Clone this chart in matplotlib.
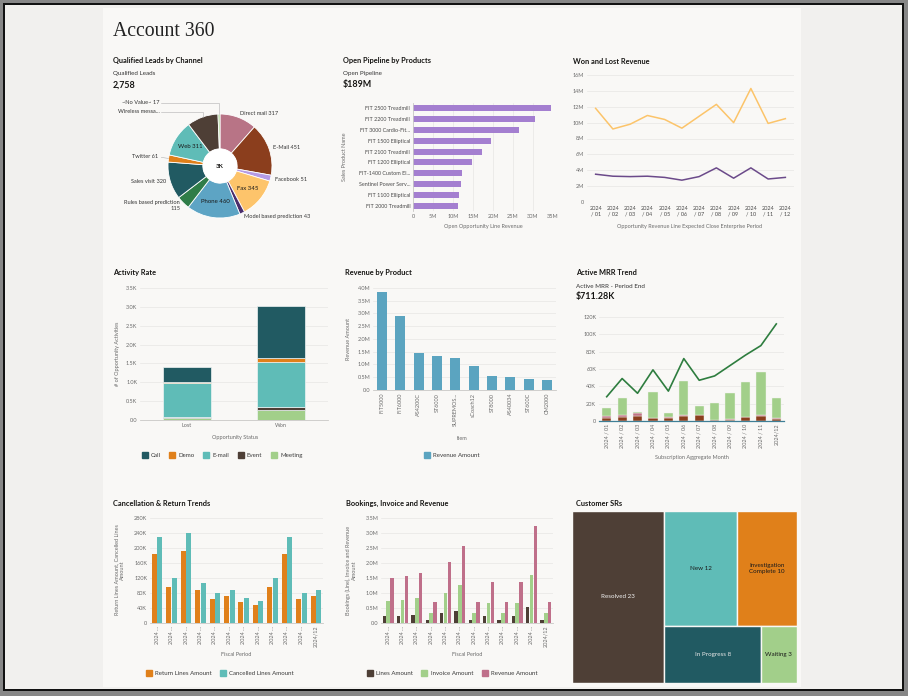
import numpy as np
import matplotlib
matplotlib.use('Agg')
import matplotlib.pyplot as plt
from matplotlib.patches import Rectangle, Circle, Patch
from matplotlib.ticker import FuncFormatter, MultipleLocator

plt.rcParams['font.family'] = ['Lato', 'DejaVu Sans']

# ---------------- DATA ----------------
lead_channels = ['Direct mail', 'E-Mail', 'Facebook', 'Fax', 'Model based prediction', 'Phone',
                 'Rules based prediction', 'Sales visit', 'Twitter', 'Web', 'Wireless messa...', '~No Value~']
lead_values = [317, 451, 51, 345, 43, 460, 115, 320, 61, 311, 267, 17]
lead_total_label = '2,758'

pipeline_products = ['FIT 2500 Treadmill', 'FIT 2200 Treadmill', 'FIT 3000 Cardio-Fit...', 'FIT 1500 Elliptical',
                     'FIT 2100 Treadmill', 'FIT 1200 Elliptical', 'FIT-1400 Custom El...', 'Sentinel Power Serv...',
                     'FIT 1100 Elliptical', 'FIT 2000 Treadmill']
pipeline_values = [34.5e6, 30.5e6, 26.5e6, 19.5e6, 17.2e6, 14.7e6, 12.3e6, 12.0e6, 11.5e6, 11.2e6]
pipeline_total_label = '$189M'

period_labels = ['2024\n/ 01', '2024\n/ 02', '2024\n/ 03', '2024\n/ 04', '2024\n/ 05', '2024\n/ 06',
                 '2024\n/ 07', '2024\n/ 08', '2024\n/ 09', '2024\n/ 10', '2024\n/ 11', '2024\n/ 12']
won_revenue = [11.8e6, 9.2e6, 9.8e6, 10.9e6, 10.4e6, 9.3e6, 10.8e6, 12.3e6, 10.0e6, 14.3e6, 9.9e6, 10.5e6]
lost_revenue = [3.5e6, 3.25e6, 3.2e6, 3.25e6, 3.1e6, 2.75e6, 3.2e6, 4.3e6, 3.0e6, 4.3e6, 2.9e6, 3.1e6]

activity_status = ['Lost', 'Won']
activity_types = ['Call', 'Demo', 'E-mail', 'Event', 'Meeting']
activity_call = [380, 1390]
activity_demo = [45, 115]
activity_email = [890, 1180]
activity_event = [25, 90]
activity_meeting = [60, 255]

revenue_items = ['FIT5000', 'FIT6000', 'AS4200C', 'ST6000', 'SUPREMOS...', 'sCoach12', 'ST8000', 'AS40034', 'ST600C', 'CM2000']
revenue_amounts = [3.84e6, 2.89e6, 1.47e6, 1.34e6, 1.24e6, 0.96e6, 0.55e6, 0.52e6, 0.43e6, 0.39e6]

mrr_months = ['2024 / 01', '2024 / 02', '2024 / 03', '2024 / 04', '2024 / 05', '2024 / 06',
              '2024 / 07', '2024 / 08', '2024 / 09', '2024 / 10', '2024 / 11', '2024/12']
mrr_active = [28e3, 49e3, 32e3, 59e3, 34.5e3, 72e3, 47e3, 52e3, 64e3, 76e3, 87e3, 112e3]
mrr_churn = [4e3, 4.5e3, 6e3, 3e3, 3.5e3, 6e3, 6.5e3, 1e3, 1.5e3, 4.5e3, 6e3, 2.5e3]
mrr_downgrade = [2e3, 3e3, 3e3, 1e3, 1e3, 1.5e3, 0.5e3, 0.5e3, 0.5e3, 0.5e3, 1.5e3, 0.5e3]
mrr_new = [9e3, 19.5e3, 1e3, 29e3, 4.5e3, 38.5e3, 10e3, 19.5e3, 30e3, 40e3, 49.5e3, 23e3]
mrr_total_label = '$711.28K'

fiscal_periods = ['2024 ...'] * 11 + ['2024/12']
return_amounts = [185e3, 95e3, 193e3, 87e3, 63e3, 71e3, 55e3, 47e3, 95e3, 185e3, 63e3, 71e3]
cancelled_amounts = [229e3, 119e3, 240e3, 108e3, 79e3, 89e3, 68e3, 59e3, 119e3, 229e3, 79e3, 89e3]

bookings_lines = [0.23e6, 0.24e6, 0.27e6, 0.11e6, 0.32e6, 0.41e6, 0.11e6, 0.22e6, 0.11e6, 0.22e6, 0.53e6, 0.11e6]
bookings_invoice = [0.73e6, 0.77e6, 0.83e6, 0.34e6, 1.01e6, 1.28e6, 0.34e6, 0.68e6, 0.34e6, 0.68e6, 1.61e6, 0.34e6]
bookings_revenue = [1.49e6, 1.56e6, 1.68e6, 0.71e6, 2.04e6, 2.58e6, 0.71e6, 1.37e6, 0.71e6, 1.37e6, 3.23e6, 0.71e6]

sr_status = ['Resolved', 'New', 'Investigation Complete', 'In Progress', 'Waiting']
sr_counts = [23, 12, 10, 8, 3]

# ---------------- STYLE ----------------
C_DKTEAL = '#215a62'
C_ORANGE = '#e0801a'
C_TEAL = '#5fbcb7'
C_BROWN = '#4e3f36'
C_LGREEN = '#a2cf8a'
TXT = '#161513'
TICK = '#6b6b6b'
PANEL = '#f9f8f6'

W, H = 908, 696
fig = plt.figure(figsize=(W / 100, H / 100), dpi=100)
fig.patch.set_facecolor('#878787')


def fx(x):
    return x / W


def fy(y):
    return 1 - y / H


def frect(x0, y0, x1, y1, **kw):
    fig.patches.append(Rectangle((fx(x0), fy(y1)), (x1 - x0) / W, (y1 - y0) / H,
                                 transform=fig.transFigure, figure=fig, zorder=-20, **kw))


def T(x, y, s, size=4.5, weight='normal', color=TXT, ha='left', va='center', **kw):
    fig.text(fx(x), fy(y), s, fontsize=size, fontweight=weight, color=color, ha=ha, va=va, **kw)


def AX(x0, y0, x1, y1):
    ax = fig.add_axes([fx(x0), fy(y1), (x1 - x0) / W, (y1 - y0) / H])
    ax.set_facecolor('none')
    return ax


def style(ax, grid='y', bottom=True):
    for s in ax.spines.values():
        s.set_visible(False)
    if bottom:
        ax.spines['bottom'].set_visible(True)
        ax.spines['bottom'].set_color('#c9c8c6')
        ax.spines['bottom'].set_linewidth(0.6)
    ax.tick_params(length=0, labelsize=4, labelcolor=TICK, pad=2)
    ax.grid(axis=grid, color='#e7e6e4', lw=0.5)
    ax.set_axisbelow(True)


def fmt_factory(div, suffix, dec):
    def f(v, pos):
        if abs(v) < 1e-9:
            return '0.0' if dec else '0'
        return f'{v / div:.{dec}f}{suffix}'
    return FuncFormatter(f)


def legend(ax, handles, labels, x, y):
    ax.legend(handles, labels, loc='center', bbox_to_anchor=(fx(x), fy(y)), bbox_transform=fig.transFigure,
              ncol=len(labels), frameon=False, fontsize=4.4, handlelength=1.0, handleheight=1.0,
              handletextpad=0.5, columnspacing=1.4, labelcolor='#3a3a3a')


# background frame
frect(3, 3, 904, 691, facecolor='#121212', lw=0)
frect(5, 5, 902, 689, facecolor='#f1f0ee', lw=0)
frect(103, 8, 801, 687, facecolor=PANEL, lw=0)

T(113, 32, 'Account 360', size=14.2, family='Liberation Serif', color='#222222')

# ---------------- 1. Pie ----------------
T(113, 61, 'Qualified Leads by Channel', size=5.3, weight='bold')
T(113, 74, 'Qualified Leads', size=4.5, color='#333333')
T(113, 85, lead_total_label, size=6.4, weight='bold')

lead_colors = ['#b87486', '#8b3e1d', '#b59be5', '#fdc46b', '#4a2d6b', '#5da4c4',
               '#2f7d48', C_DKTEAL, C_ORANGE, C_TEAL, C_BROWN, C_LGREEN]
ax = AX(160, 106, 280, 226)
ax.pie(lead_values, colors=lead_colors, startangle=90, counterclock=False, radius=1,
       wedgeprops=dict(width=0.67, edgecolor='white', linewidth=0.6))
ax.add_patch(Circle((0, 0), 0.33, facecolor='white', lw=0))
ax.set_xlim(-1.154, 1.154)
ax.set_ylim(-1.154, 1.154)
ax.set_aspect('equal')
ax.axis('off')
ax.text(0, 0, '3K', fontsize=4.5, fontweight='bold', ha='center', va='center', color=TXT)

vals = np.array(lead_values, dtype=float)
tot = vals.sum()
cum = np.cumsum(vals)
mid_frac = (cum - vals / 2) / tot
inside = {'Web', 'Fax', 'Phone'}
elbow_level = 1.03
for name, v, mf in zip(lead_channels, lead_values, mid_frac):
    th = np.deg2rad(90 - 360 * mf)
    dx, dy = np.cos(th), np.sin(th)
    label = name if name.endswith('...') else f'{name} {v}'
    if name in inside:
        ax.text(0.68 * dx, 0.68 * dy, label, fontsize=4.3, ha='center', va='center', color='#1a1a1a')
    elif mf > 0.88:
        ax.plot([dx, dx, -1.13], [dy, elbow_level, elbow_level], color='#b0b0b0', lw=0.4, clip_on=False)
        ax.text(-1.16, elbow_level + 0.02, label, fontsize=4.1, ha='right', va='center', color='#333333')
        elbow_level += 0.18
    else:
        if dx < 0 and len(label) > 20:
            label = f'{name}\n{v}'
        if v < 100 and dx < 0:
            ax.plot([1.0 * dx, 1.14 * dx], [1.0 * dy, 1.14 * dy], color='#b0b0b0', lw=0.4, clip_on=False)
            r = 1.2
        else:
            r = 1.08
        ax.text(r * dx, r * dy, label, fontsize=4.1, ha='left' if dx > 0 else 'right',
                va='center', color='#333333', multialignment='right' if dx < 0 else 'left')

# ---------------- 2. Open Pipeline ----------------
T(343, 61, 'Open Pipeline by Products', size=5.3, weight='bold')
T(343, 74, 'Open Pipeline', size=4.5, color='#333333')
T(343, 85, pipeline_total_label, size=6.4, weight='bold')
ax = AX(413, 103, 553, 211)
yy = np.arange(len(pipeline_products))
ax.barh(yy, pipeline_values, height=0.55, color='#a47fd0')
ax.set_ylim(len(pipeline_products) - 0.5, -0.5)
ax.set_xlim(0, 35e6)
ax.xaxis.set_major_locator(MultipleLocator(5e6))
ax.xaxis.set_major_formatter(fmt_factory(1e6, 'M', 0))
ax.set_yticks(yy, pipeline_products)
style(ax, grid='x', bottom=False)
ax.spines['left'].set_visible(True)
ax.spines['left'].set_color('#c9c8c6')
ax.spines['left'].set_linewidth(0.6)
ax.tick_params(axis='y', labelcolor='#4a4a4a', labelsize=3.9)
T(483, 227, 'Open Opportunity Line Revenue', size=4, color=TICK, ha='center')
T(345, 157, 'Sales Product Name', size=4, color=TICK, ha='center', rotation=90)

# ---------------- 3. Won and Lost ----------------
T(573, 61, 'Won and Lost Revenue', size=5.3, weight='bold')
ax = AX(587, 75, 794, 202)
xx = np.arange(len(period_labels))
ax.plot(xx, won_revenue, color='#fcc46a', lw=1.1)
ax.plot(xx, lost_revenue, color='#6b4a8a', lw=1.1)
ax.set_xlim(-0.5, len(period_labels) - 0.5)
ax.set_ylim(0, 16e6)
ax.yaxis.set_major_locator(MultipleLocator(2e6))
ax.yaxis.set_major_formatter(fmt_factory(1e6, 'M', 0))
ax.set_xticks(xx, period_labels)
style(ax, grid='y', bottom=False)
ax.tick_params(axis='x', labelsize=4, labelcolor='#4a4a4a', pad=3)
T(690, 227, 'Opportunity Revenue Line Expected Close Enterprise Period', size=4, color=TICK, ha='center')

# ---------------- 4. Activity Rate ----------------
T(113, 273, 'Activity Rate', size=5.3, weight='bold')
ax = AX(140, 288, 328, 420)
xs = np.arange(len(activity_status))
series = [('Meeting', activity_meeting, C_LGREEN), ('Event', activity_event, C_BROWN),
          ('E-mail', activity_email, C_TEAL), ('Demo', activity_demo, C_ORANGE),
          ('Call', activity_call, C_DKTEAL)]
bottom = np.zeros(len(xs))
for nm, vs, col in series:
    ax.bar(xs, vs, bottom=bottom, width=0.51, color=col, edgecolor='#eef4f4', linewidth=0.5)
    bottom += np.array(vs)
ax.set_xlim(-0.5, 1.5)
ax.set_ylim(0, 3500)
ax.yaxis.set_major_locator(MultipleLocator(500))
ax.yaxis.set_major_formatter(fmt_factory(1e3, 'K', 1))
ax.set_xticks(xs, activity_status)
style(ax)
T(235, 438, 'Opportunity Status', size=4, color=TICK, ha='center')
T(117, 354, '# of Opportunity Activities', size=4, color=TICK, ha='center', rotation=90)
cmap = {'Call': C_DKTEAL, 'Demo': C_ORANGE, 'E-mail': C_TEAL, 'Event': C_BROWN, 'Meeting': C_LGREEN}
legend(ax, [Patch(color=cmap[t]) for t in activity_types], activity_types, 222, 455)

# ---------------- 5. Revenue by Product ----------------
T(345, 273, 'Revenue by Product', size=5.3, weight='bold')
ax = AX(373, 288, 556, 390)
xs = np.arange(len(revenue_items))
ax.bar(xs, revenue_amounts, width=0.55, color='#5ba4c0')
ax.set_xlim(-0.5, len(revenue_items) - 0.5)
ax.set_ylim(0, 4e6)
ax.yaxis.set_major_locator(MultipleLocator(0.5e6))
ax.yaxis.set_major_formatter(fmt_factory(1e6, 'M', 1))
ax.set_xticks(xs, revenue_items, rotation=90)
style(ax)
T(462, 438, 'Item', size=4, color=TICK, ha='center')
T(349, 339, 'Revenue Amount', size=4, color=TICK, ha='center', rotation=90)
legend(ax, [Patch(color='#5ba4c0')], ['Revenue Amount'], 452, 455)

# ---------------- 6. Active MRR ----------------
T(576, 273, 'Active MRR Trend', size=5.3, weight='bold')
T(576, 286, 'Active MRR - Period End', size=4.5, color='#333333')
T(576, 297, mrr_total_label, size=6.4, weight='bold')
ax = AX(599, 317, 784, 421)
xs = np.arange(len(mrr_months))
b = np.zeros(len(xs))
for vs, col in [(mrr_churn, '#8b3e1d'), (mrr_downgrade, '#c07585'), (mrr_new, C_LGREEN)]:
    ax.bar(xs, vs, bottom=b, width=0.6, color=col, edgecolor='#f2f2ee', linewidth=0.3)
    b += np.array(vs)
ax.plot(xs, mrr_active, color='#2e7d3f', lw=1.2)
ax.set_xlim(-0.5, len(mrr_months) - 0.5)
ax.set_ylim(0, 120e3)
ax.yaxis.set_major_locator(MultipleLocator(20e3))
ax.yaxis.set_major_formatter(fmt_factory(1e3, 'K', 0))
ax.set_xticks(xs, mrr_months, rotation=90)
style(ax)
ax.spines['bottom'].set_color('#3f7f96')
ax.spines['bottom'].set_linewidth(0.9)
T(692, 457, 'Subscription Aggregate Month', size=4, color=TICK, ha='center')

# ---------------- 7. Cancellation ----------------
T(113, 503, 'Cancellation & Return Trends', size=5.3, weight='bold')
ax = AX(150, 518, 323, 623)
xs = np.arange(len(fiscal_periods))
ax.bar(xs - 0.19, return_amounts, width=0.35, color=C_ORANGE)
ax.bar(xs + 0.19, cancelled_amounts, width=0.35, color=C_TEAL)
ax.set_xlim(-0.5, len(fiscal_periods) - 0.5)
ax.set_ylim(0, 280e3)
ax.yaxis.set_major_locator(MultipleLocator(40e3))
ax.yaxis.set_major_formatter(fmt_factory(1e3, 'K', 0))
ax.set_xticks(xs, fiscal_periods, rotation=90)
style(ax)
T(236, 655, 'Fiscal Period', size=4, color=TICK, ha='center')
T(120, 570, 'Return Lines Amount, Cancelled Lines\nAmount', size=4, color=TICK, ha='center', rotation=90,
  multialignment='center')
legend(ax, [Patch(color=C_ORANGE), Patch(color=C_TEAL)], ['Return Lines Amount', 'Cancelled Lines Amount'], 220, 673)

# ---------------- 8. Bookings ----------------
T(346, 503, 'Bookings, Invoice and Revenue', size=5.3, weight='bold')
ax = AX(381, 518, 553, 623)
xs = np.arange(len(fiscal_periods))
ax.bar(xs - 0.27, bookings_lines, width=0.24, color=C_BROWN)
ax.bar(xs, bookings_invoice, width=0.24, color=C_LGREEN)
ax.bar(xs + 0.27, bookings_revenue, width=0.24, color='#bf6f8a')
ax.set_xlim(-0.5, len(fiscal_periods) - 0.5)
ax.set_ylim(0, 3.5e6)
ax.yaxis.set_major_locator(MultipleLocator(0.5e6))
ax.yaxis.set_major_formatter(fmt_factory(1e6, 'M', 1))
ax.set_xticks(xs, fiscal_periods, rotation=90)
style(ax)
T(467, 655, 'Fiscal Period', size=4, color=TICK, ha='center')
T(351, 570, 'Bookings (Line), Invoice and Revenue\nAmount', size=4, color=TICK, ha='center', rotation=90,
  multialignment='center')
legend(ax, [Patch(color=C_BROWN), Patch(color=C_LGREEN), Patch(color='#bf6f8a')],
       ['Lines Amount', 'Invoice Amount', 'Revenue Amount'], 452, 673)

# ---------------- 9. Treemap ----------------
T(576, 503, 'Customer SRs', size=5.3, weight='bold')


def squarify(values, x, y, w, h):
    total = float(sum(values))
    areas = [v * w * h / total for v in values]

    def worst(row, side):
        s = sum(row)
        return max(max(s * s / (side * side * r), side * side * r / (s * s)) for r in row)

    def layout(row, x, y, w, h):
        s = sum(row)
        out = []
        if w >= h:
            cw = s / h
            yy = y
            for r in row:
                out.append((x, yy, cw, r / cw))
                yy += r / cw
            return out, (x + cw, y, w - cw, h)
        rh = s / w
        xx = x
        for r in row:
            out.append((xx, y, r / rh, rh))
            xx += r / rh
        return out, (x, y + rh, w, h - rh)

    rects, row, rem = [], [], list(areas)
    while rem:
        side = min(w, h)
        a = rem[0]
        if not row or worst(row + [a], side) <= worst(row, side):
            row.append(a)
            rem.pop(0)
        else:
            out, (x, y, w, h) = layout(row, x, y, w, h)
            rects += out
            row = []
    if row:
        out, _ = layout(row, x, y, w, h)
        rects += out
    return rects


TW, TH = 225, 172
ax = AX(572, 511, 572 + TW, 511 + TH)
ax.set_xlim(0, TW)
ax.set_ylim(TH, 0)
ax.axis('off')
sr_colors = [C_BROWN, C_TEAL, C_ORANGE, C_DKTEAL, C_LGREEN]
sr_text = ['#f2f2f2', '#1a1a1a', '#1a1a1a', '#e8e8e8', '#1a1a1a']
for (rx, ry, rw, rh), nm, n, col, tc in zip(squarify(sr_counts, 0, 0, TW, TH), sr_status, sr_counts, sr_colors, sr_text):
    ax.add_patch(Rectangle((rx, ry), rw, rh, facecolor=col, edgecolor=PANEL, linewidth=1.0))
    lab = f'{nm} {n}'
    if len(lab) > 16:
        parts = nm.split(' ')
        lab = f'{parts[0]}\n{" ".join(parts[1:])} {n}'
    ax.text(rx + rw / 2, ry + rh / 2, lab, ha='center', va='center', fontsize=4.5, color=tc,
            multialignment='center', linespacing=1.4)

fig.savefig('out.png', dpi=100, facecolor=fig.get_facecolor())
